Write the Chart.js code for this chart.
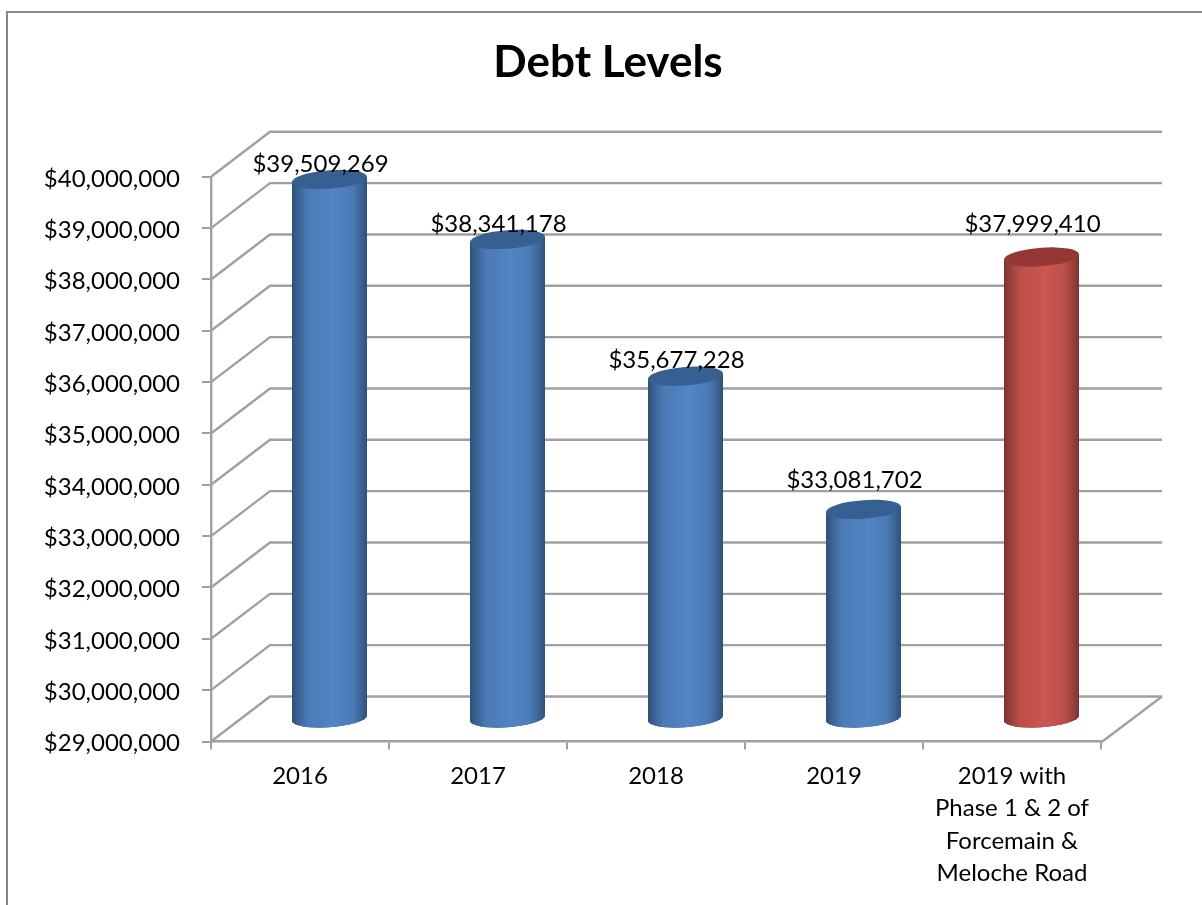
<!DOCTYPE html>
<html>
<head>
<meta charset="utf-8">
<title>Debt Levels</title>
<script src="https://cdn.jsdelivr.net/npm/chart.js@4/dist/chart.umd.js"></script>
<style>
    html, body { margin: 0; padding: 0; background: #fff; overflow: hidden; }
    #debtChart { display: block; }
</style>
</head>
<body>
<canvas id="debtChart" width="1202" height="905"></canvas>
<script>
const categories = ['2016', '2017', '2018', '2019', ['2019 with', 'Phase 1 & 2 of', 'Forcemain &', 'Meloche Road']];
const debtValues = [39509269, 38341178, 35677228, 33081702, 37999410];
const tickLabels = ['$29,000,000', '$30,000,000', '$31,000,000', '$32,000,000', '$33,000,000', '$34,000,000',
    '$35,000,000', '$36,000,000', '$37,000,000', '$38,000,000', '$39,000,000', '$40,000,000'];

// cylinder colours: centre of the body, shaded edge, top cap
const bodyColors = ['#5285c6', '#5285c6', '#5285c6', '#5285c6', '#cc5651'];
const edgeColors = ['#2f5078', '#2f5078', '#2f5078', '#2f5078', '#7a3331'];
const capColors = ['#376092', '#376092', '#376092', '#376092', '#953735'];

// how far each value label sits above its value on the front plane
const labelLift = [38, 38, 38, 52, 55];

const fontFamily = 'Lato, "Open Sans", sans-serif';
const gridColor = '#a0a0a0';
const depthX = 59;
const depthY = 45;

// bar element drawn as a cylinder standing halfway into the floor
class CylinderBar extends Chart.BarElement {
    static id = 'cylinderBar';

    draw(ctx) {
        const { x, y, base, width } = this;
        const i = this.$context.dataIndex;
        const r = width / 2;
        const ry = 9.3;
        const shear = 0.07;

        ctx.save();
        ctx.translate(depthX / 2, -depthY / 2);

        const body = ctx.createLinearGradient(x - r, 0, x + r, 0);
        body.addColorStop(0, edgeColors[i]);
        body.addColorStop(0.22, '' + bodyColors[i] + 'cc');
        body.addColorStop(0.55, bodyColors[i]);
        body.addColorStop(0.8, bodyColors[i] + 'cc');
        body.addColorStop(1, edgeColors[i]);

        // tilt the ellipses a little, like the rest of the perspective
        ctx.transform(1, -shear, 0, 1, 0, shear * x);

        // solid underlay so the translucent gradient stops hide the grid
        ctx.beginPath();
        ctx.moveTo(x - r, y);
        ctx.lineTo(x - r, base);
        ctx.ellipse(x, base, r, ry, 0, Math.PI, 0, true);
        ctx.lineTo(x + r, y);
        ctx.closePath();
        ctx.fillStyle = edgeColors[i];
        ctx.fill();
        ctx.fillStyle = body;
        ctx.fill();

        ctx.fillStyle = capColors[i];
        ctx.beginPath();
        ctx.ellipse(x, y, r, ry, 0, 0, Math.PI * 2);
        ctx.fill();
        ctx.restore();
    }
}

class CylinderController extends Chart.BarController {
    static id = 'cylinder';
    static defaults = { dataElementType: 'cylinderBar' };
}

Chart.register(CylinderBar, CylinderController);

// outer frame of the chart
const framePlugin = {
    id: 'frame',
    beforeDraw(chart) {
        const ctx = chart.ctx;
        ctx.save();
        ctx.strokeStyle = '#868686';
        ctx.lineWidth = 2;
        ctx.beginPath();
        ctx.moveTo(7, chart.height);
        ctx.lineTo(7, 12);
        ctx.lineTo(chart.width, 12);
        ctx.stroke();
        ctx.restore();
    }
};

// back wall, side wall and floor behind the cylinders
const wallsPlugin = {
    id: 'walls',
    beforeDatasetsDraw(chart) {
        const { ctx, chartArea, scales } = chart;
        const left = chartArea.left;
        const right = chartArea.right;
        ctx.save();
        ctx.strokeStyle = gridColor;
        ctx.lineWidth = 2.4;
        scales.y.ticks.forEach(tick => {
            const y = scales.y.getPixelForValue(tick.value);
            ctx.beginPath();
            ctx.moveTo(left, y);
            ctx.lineTo(left + depthX, y - depthY);
            ctx.lineTo(right + depthX + 2, y - depthY);
            ctx.stroke();
        });
        ctx.beginPath();
        ctx.moveTo(right, chartArea.bottom + 1);
        ctx.lineTo(right + depthX + 2, chartArea.bottom - depthY);
        ctx.stroke();
        ctx.restore();
    }
};

const valueLabelPlugin = {
    id: 'valueLabels',
    afterDatasetsDraw(chart) {
        const ctx = chart.ctx;
        const meta = chart.getDatasetMeta(0);
        ctx.save();
        ctx.font = '24px ' + fontFamily;
        ctx.fillStyle = '#000';
        ctx.textAlign = 'center';
        ctx.textBaseline = 'middle';
        meta.data.forEach((bar, i) => {
            const text = '$' + debtValues[i].toLocaleString('en-US');
            ctx.fillText(text, bar.x + 20.5, bar.y - labelLift[i]);
        });
        ctx.restore();
    }
};

const debtChart = new Chart(document.getElementById('debtChart').getContext('2d'), {
    type: 'cylinder',
    data: {
        labels: categories,
        datasets: [{
            data: debtValues,
            backgroundColor: bodyColors,
            base: 29000000,
            barThickness: 75,
            clip: false
        }]
    },
    options: {
        responsive: false,
        animation: false,
        layout: { padding: { left: 14 } },
        plugins: {
            legend: { display: false },
            tooltip: { enabled: false },
            title: {
                display: true,
                text: 'Debt Levels',
                color: '#000',
                font: { family: fontFamily, size: 44, weight: 'bold' },
                padding: { top: 36, bottom: 88 }
            }
        },
        scales: {
            x: {
                type: 'category',
                offset: true,
                grid: { offset: true, drawOnChartArea: false, color: gridColor, lineWidth: 2, tickLength: 8 },
                border: { color: gridColor, width: 2.4 },
                ticks: {
                    color: '#000',
                    font: { family: fontFamily, size: 24, lineHeight: 1.36 },
                    autoSkip: false,
                    maxRotation: 0,
                    padding: 10
                },
                afterFit(scale) { scale.height = 163.5; }
            },
            y: {
                type: 'linear',
                min: 29000000,
                max: 40000000,
                grid: { drawOnChartArea: false, color: gridColor, lineWidth: 2, tickLength: 9 },
                border: { color: gridColor, width: 2.4 },
                ticks: {
                    stepSize: 1000000,
                    color: '#000',
                    font: { family: fontFamily, size: 24 },
                    padding: 22,
                    labelOffset: 2,
                    callback: (value, index) => tickLabels[index]
                },
                afterFit(scale) { scale.width = 197; }
            },
            // empty axis that keeps the space to the right of the front plane
            rightGutter: {
                type: 'linear',
                position: 'right',
                grid: { display: false },
                border: { display: false },
                ticks: { display: false },
                afterFit(scale) { scale.width = 101; }
            }
        }
    },
    plugins: [framePlugin, wallsPlugin, valueLabelPlugin]
});
</script>
</body>
</html>
